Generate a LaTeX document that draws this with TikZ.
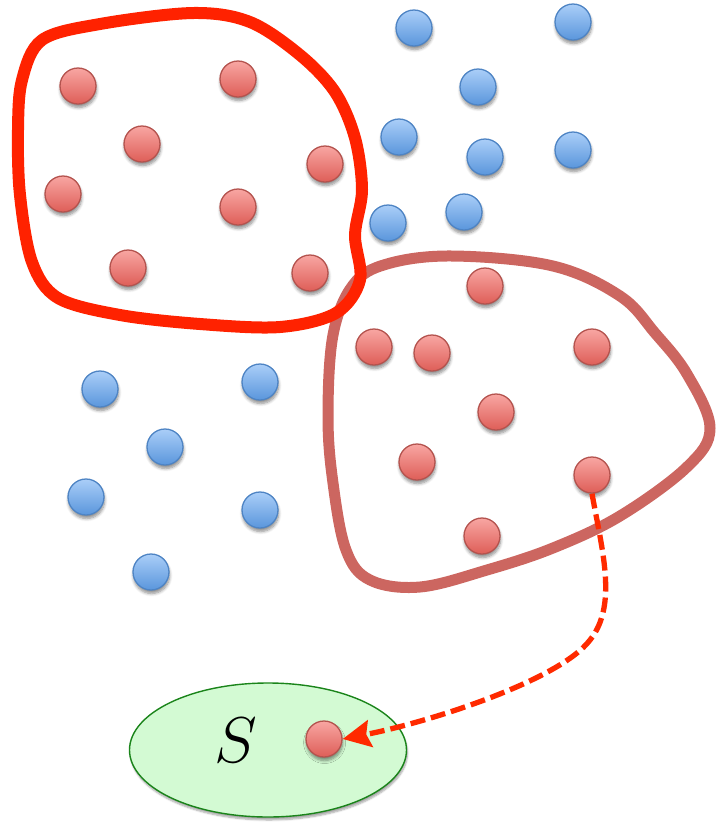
\documentclass[tikz,border=0pt]{standalone}
\usepackage{tikz}
\usetikzlibrary{shapes.geometric,arrows.meta,shadows.blur}
\definecolor{blobred}{HTML}{FF2200}
\definecolor{blobrose}{HTML}{CC6660}
\definecolor{arrowred}{HTML}{FF2A00}
\definecolor{rtop}{HTML}{F8A6A2}
\definecolor{rbot}{HTML}{DE5E58}
\definecolor{rline}{HTML}{B4534E}
\definecolor{btop}{HTML}{AACEF8}
\definecolor{bbot}{HTML}{5A96DC}
\definecolor{bline}{HTML}{4E84C4}
\definecolor{setfill}{HTML}{D3FAD3}
\definecolor{setline}{HTML}{1A841A}
\tikzset{
  dotbase/.style={circle, minimum size=36pt, inner sep=0pt, line width=1.3pt,
    blur shadow={shadow xshift=0.6pt, shadow yshift=-3.5pt, shadow blur steps=6, shadow opacity=45, shadow blur radius=3pt}},
  rdot/.style={dotbase, draw=rline, top color=rtop, bottom color=rbot},
  bdot/.style={dotbase, draw=bline, top color=btop, bottom color=bbot},
  blobA/.style={draw=blobred, line width=12pt},
  blobB/.style={draw=blobrose, line width=11pt},
  setshape/.style={ellipse, draw=setline, fill=setfill, line width=1.4pt,
    minimum width=277pt, minimum height=134pt,
    blur shadow={shadow xshift=1pt, shadow yshift=-3pt, shadow blur steps=6, shadow opacity=35}},
  linkarrow/.style={draw=arrowred, line width=5.3pt, dash pattern=on 15pt off 6pt,
    -{Stealth[length=28pt, width=27pt, inset=4pt, fill=arrowred]}},
}
\begin{document}
\begin{tikzpicture}[x=1pt, y=-1pt]
\useasboundingbox (0,0) rectangle (716,823);

% second group outline
\draw[blobB] plot[smooth cycle, tension=0.6] coordinates {
  (453,256) (553,266) (620,296) (655,333) (687,374) (710,428) (687,467)
  (620,516) (553,548) (487,570) (420,587) (370,580) (346,550) (333,483)
  (328,417) (333,335) (353,285) (387,264)};

% first group outline
\draw[blobA] plot[smooth cycle, tension=0.55] coordinates {
  (22,80) (42,40) (100,24) (193,13) (250,22) (300,55) (335,92) (355,138)
  (362,190) (355,235) (360,280) (336,313) (280,327) (200,324) (120,315)
  (58,298) (32,262) (20,195) (18,130)};

% members of the first group
\node[rdot] (a1) at (78,86) {};
\node[rdot] (a2) at (238,79) {};
\node[rdot] (a3) at (142,144) {};
\node[rdot] (a4) at (325,164) {};
\node[rdot] (a5) at (63,194) {};
\node[rdot] (a6) at (238,207) {};
\node[rdot] (a7) at (128,268) {};
\node[rdot] (a8) at (310,273) {};

% members of the second group
\node[rdot] (c1) at (485,286) {};
\node[rdot] (c2) at (374,347) {};
\node[rdot] (c3) at (432,353) {};
\node[rdot] (c4) at (592,347) {};
\node[rdot] (c5) at (496,412) {};
\node[rdot] (c6) at (417,462) {};
\node[rdot] (c7) at (592,475) {};
\node[rdot] (c8) at (482,536) {};

% remaining points
\node[bdot] (b1) at (414,28) {};
\node[bdot] (b2) at (573,22) {};
\node[bdot] (b3) at (478,87) {};
\node[bdot] (b4) at (399,137) {};
\node[bdot] (b5) at (485,157) {};
\node[bdot] (b6) at (573,150) {};
\node[bdot] (b7) at (388,223) {};
\node[bdot] (b8) at (464,212) {};
\node[bdot] (b9) at (100,389) {};
\node[bdot] (b10) at (260,382) {};
\node[bdot] (b11) at (165,447) {};
\node[bdot] (b12) at (86,497) {};
\node[bdot] (b13) at (260,510) {};
\node[bdot] (b14) at (151,572) {};

% the set S
\node[setshape] (S) at (268,750) {};
\node[scale=2.6] (Slabel) at (236,740) {\Huge $S$};
\node[rdot] (s1) at (324,739) {};

% selected point moved into S
\draw[linkarrow] (c7.south) .. controls (602,550) and (618,605) .. (590,640)
  .. controls (560,680) and (430,722) .. (s1.east);
\end{tikzpicture}
\end{document}
